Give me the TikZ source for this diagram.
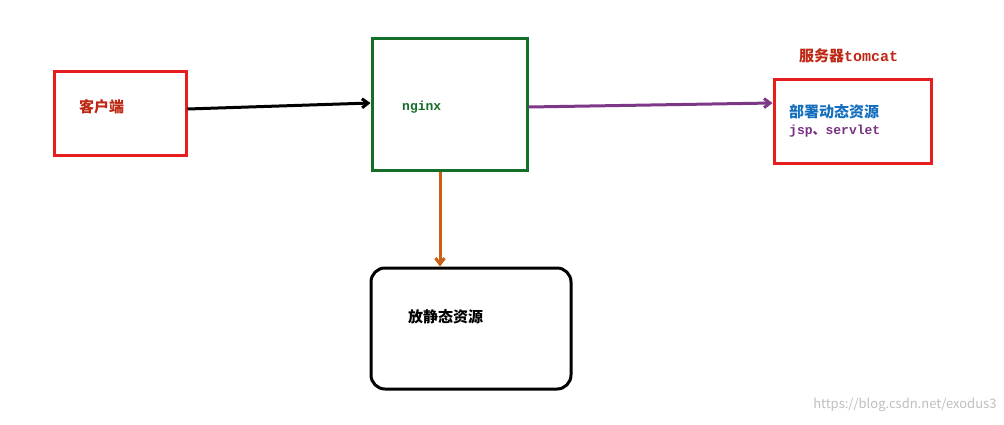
\documentclass[tikz,border=0pt]{standalone}
\usepackage{fontspec}
\setmainfont{Noto Sans CJK SC}
\newfontfamily\codefont{Liberation Mono}
\usetikzlibrary{arrows.meta,positioning}
\definecolor{boxred}{RGB}{230,30,30}
\definecolor{boxgreen}{RGB}{20,110,40}
\definecolor{txtred}{RGB}{190,40,20}
\definecolor{txtblue}{RGB}{20,110,190}
\definecolor{txtpurple}{RGB}{120,50,130}
\definecolor{arrpurple}{RGB}{125,55,135}
\definecolor{arrorange}{RGB}{205,95,20}
\begin{document}
\begin{tikzpicture}[x=1pt,y=-1pt,
  box/.style={draw,line width=3pt,inner sep=0pt},
  lbl/.style={font=\bfseries\fontsize{15}{17}\selectfont,anchor=west,inner sep=0pt},
  arr/.style={-{Straight Barb[length=6pt,width=9pt]},line width=3pt}
]
\useasboundingbox[fill=white] (0,0) rectangle (1004,424);
\node[box,draw=boxred,minimum width=132pt,minimum height=84pt] (client) at (120,113) {};
\node[box,draw=boxgreen,minimum width=155pt,minimum height=132pt] (nginx) at (449.5,104) {};
\node[box,draw=boxred,minimum width=157pt,minimum height=84pt] (tomcat) at (852.5,121) {};
\node[box,draw=black,rounded corners=14pt,minimum width=200pt,minimum height=121pt] (static) at (471,328.5) {};
% labels
\node[lbl,text=txtred] (clienttxt) at (79,107) {客户端};
\node[lbl,text=boxgreen,font=\bfseries\codefont\fontsize{13}{15}\selectfont] (nginxtxt) at (402,107) {nginx};
\node[lbl,text=txtred] (tomcathead) at (799,56) {服务器{\codefont tomcat}};
\node[lbl,text=txtblue] (dyntxt) at (789,112) {部署动态资源};
\node[lbl,text=txtpurple,font=\bfseries\fontsize{13}{15}\selectfont] (jsptxt) at (789,131) {{\codefont jsp}、{\codefont servlet}};
\node[lbl] (statictxt) at (408,317) {放静态资源};
\node[anchor=east,text=black!25,font=\fontsize{13}{15}\selectfont] (mark) at (1000,405) {https://blog.csdn.net/exodus3};
% connectors
\draw[arr,black] (client.east |- 0,109) -- (nginx.west |- 0,103);
\draw[arr,arrpurple] (nginx.east |- 0,107) -- (tomcat.west |- 0,103);
\draw[arr,arrorange] (nginx.south -| 440,0) -- (static.north -| 440,0);
\end{tikzpicture}
\end{document}
